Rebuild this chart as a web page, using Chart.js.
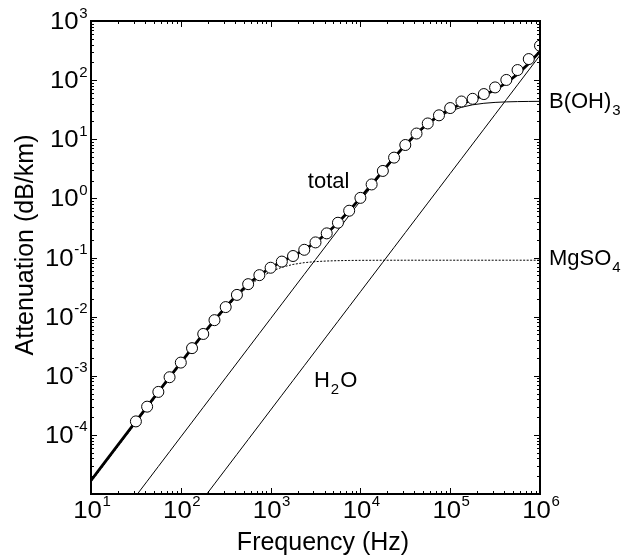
<!DOCTYPE html>
<html>
<head>
<meta charset="utf-8">
<script src="https://cdn.jsdelivr.net/npm/chart.js@4.4.1/dist/chart.umd.min.js"></script>
<style>
  html, body { margin: 0; padding: 0; background: #fff; }
</style>
</head>
<body>
<canvas id="myChart" width="624" height="558"></canvas>
<script>
// frequency grid (Hz) used by the model curves
var freq = [10, 13.34, 17.78, 23.71, 31.62, 42.17, 56.23, 74.99, 100, 133.4, 177.8, 237.1,
  316.2, 421.7, 562.3, 749.9, 1000, 1334, 1778, 2371, 3162, 4217, 5623, 7499,
  1e4, 1.334e4, 1.778e4, 2.371e4, 3.162e4, 4.217e4, 5.623e4, 7.499e4,
  1e5, 1.334e5, 1.778e5, 2.371e5, 3.162e5, 4.217e5, 5.623e5, 7.499e5, 1e6];

// attenuation (dB/km) of each contribution
var mgso4 = [1.600e-5, 2.844e-5, 5.056e-5, 8.988e-5, 1.597e-4, 2.836e-4, 5.031e-4, 8.908e-4,
  1.572e-3, 2.758e-3, 4.790e-3, 8.179e-3, 0.01359, 0.02162, 0.03239, 0.04499,
  0.0576, 0.06837, 0.07641, 0.08182, 0.08521, 0.08724, 0.08843, 0.08911,
  0.0895, 0.08972, 0.08984, 0.08991, 0.08995, 0.08997, 0.08998, 0.08999,
  0.09, 0.09, 0.09, 0.09, 0.09, 0.09, 0.09, 0.09, 0.09];
var boric = [9.24e-7, 1.643e-6, 2.922e-6, 5.197e-6, 9.24e-6, 1.643e-5, 2.922e-5, 5.197e-5,
  9.24e-5, 1.643e-4, 2.922e-4, 5.197e-4, 9.24e-4, 1.643e-3, 2.922e-3, 5.197e-3,
  9.24e-3, 0.01643, 0.0292, 0.0519, 0.0922, 0.1637, 0.2903, 0.5136,
  0.905, 1.584, 2.740, 4.648, 7.638, 11.96, 17.56, 23.83,
  29.81, 34.71, 38.24, 40.57, 42.0, 42.85, 43.35, 43.63, 43.79];
var water = [2.63e-8, 4.68e-8, 8.32e-8, 1.479e-7, 2.63e-7, 4.68e-7, 8.32e-7, 1.479e-6,
  2.63e-6, 4.68e-6, 8.32e-6, 1.479e-5, 2.63e-5, 4.68e-5, 8.32e-5, 1.479e-4,
  2.63e-4, 4.68e-4, 8.32e-4, 1.479e-3, 2.63e-3, 4.68e-3, 8.32e-3, 0.01479,
  0.0263, 0.0468, 0.0832, 0.1479, 0.263, 0.468, 0.832, 1.479,
  2.63, 4.68, 8.32, 14.79, 26.3, 46.8, 83.2, 147.9, 263];
var total = [1.695e-5, 3.013e-5, 5.357e-5, 9.523e-5, 1.692e-4, 3.005e-4, 5.332e-4, 9.443e-4,
  1.667e-3, 2.927e-3, 5.091e-3, 8.714e-3, 0.01454, 0.02331, 0.03539, 0.05034,
  0.0671, 0.08526, 0.1064, 0.1352, 0.1801, 0.2556, 0.3871, 0.6175,
  1.021, 1.721, 2.913, 4.886, 7.991, 12.52, 18.48, 25.40,
  32.53, 39.48, 46.65, 55.45, 68.39, 89.74, 126.6, 191.6, 306.9];

// measured points (open circles)
var obsFreq = [31.62, 42.17, 56.23, 74.99, 100, 133.4, 177.8, 237.1, 316.2, 421.7, 562.3, 749.9,
  1000, 1334, 1778, 2371, 3162, 4217, 5623, 7499, 1e4, 1.334e4, 1.778e4, 2.371e4,
  3.162e4, 4.217e4, 5.623e4, 7.499e4, 1e5, 1.334e5, 1.778e5, 2.371e5, 3.162e5,
  4.217e5, 5.623e5, 7.499e5, 1e6];
var obsAtten = [1.69e-4, 3.0e-4, 5.33e-4, 9.44e-4, 1.67e-3, 2.93e-3, 5.09e-3, 8.71e-3,
  0.0145, 0.0233, 0.0354, 0.0503, 0.0671, 0.0853, 0.106, 0.135, 0.180, 0.256,
  0.387, 0.618, 1.02, 1.72, 2.91, 4.89, 7.99, 12.5, 18.5, 25.4,
  33.7, 43.5, 48.3, 58.1, 75.3, 100.7, 148, 227, 382];

// tick label exponents
var xExp = [1, 2, 3, 4, 5, 6];
var yExp = [3, 2, 1, 0, -1, -2, -3, -4];

function pts(xs, ys) {
  return xs.map(function (v, i) { return {x: v, y: ys[i]}; });
}

var FONT = '"Liberation Sans", Arial, Helvetica, sans-serif';
var SX = 1.12; // reference digits are a bit wider than Arial

function supText(exp) {
  return exp < 0 ? '-' + Math.abs(exp) : String(exp);
}

function powWidth(ctx, exp) {
  ctx.font = '23px ' + FONT;
  var bw = ctx.measureText('10').width * SX;
  ctx.font = '15px ' + FONT;
  return bw + 0.5 + ctx.measureText(supText(exp)).width;
}

function drawPow(ctx, exp, left, digitTop) {
  ctx.textAlign = 'left';
  ctx.textBaseline = 'alphabetic';
  ctx.font = '23px ' + FONT;
  var bw = ctx.measureText('10').width * SX;
  ctx.save();
  ctx.translate(left, digitTop + 16.5);
  ctx.scale(SX, 1);
  ctx.fillText('10', 0, 0);
  ctx.restore();
  ctx.font = '15px ' + FONT;
  ctx.fillText(supText(exp), left + bw + 0.5, digitTop + 5);
}

var frame = {
  id: 'frame',
  afterDraw: function (chart) {
    var ctx = chart.ctx, a = chart.chartArea;
    var xs = chart.scales.x, ys = chart.scales.y;
    ctx.save();
    ctx.strokeStyle = '#000';
    ctx.fillStyle = '#000';

    // inward ticks on all four sides
    ctx.lineWidth = 1;
    ctx.beginPath();
    var d, m, v, p, len;
    for (d = 1; d <= 6; d++) {
      for (m = 1; m <= 9; m++) {
        v = m * Math.pow(10, d);
        if (v > 1e6) break;
        p = Math.round(xs.getPixelForValue(v)) + 0.5;
        len = m === 1 ? 6 : 3;
        ctx.moveTo(p, a.bottom); ctx.lineTo(p, a.bottom - len);
        ctx.moveTo(p, a.top); ctx.lineTo(p, a.top + len);
      }
    }
    for (d = -5; d <= 3; d++) {
      for (m = 1; m <= 9; m++) {
        v = m * Math.pow(10, d);
        if (v > 1e3 * 1.0001) break;
        p = Math.round(ys.getPixelForValue(v)) + 0.5;
        len = m === 1 ? 6 : 3;
        ctx.moveTo(a.left, p); ctx.lineTo(a.left + len, p);
        ctx.moveTo(a.right, p); ctx.lineTo(a.right - len, p);
      }
    }
    ctx.stroke();
    ctx.lineWidth = 2;
    ctx.strokeRect(a.left, a.top, a.right - a.left, a.bottom - a.top);

    // tick labels
    xExp.forEach(function (e) {
      var px = xs.getPixelForValue(Math.pow(10, e));
      var w = powWidth(ctx, e);
      drawPow(ctx, e, px - w / 2 + 1, a.bottom + 7);
    });
    yExp.forEach(function (e) {
      var py = ys.getPixelForValue(Math.pow(10, e));
      var w = powWidth(ctx, e);
      drawPow(ctx, e, a.left - 3.5 - w, py - 8.5);
    });

    // axis titles
    ctx.font = '25px ' + FONT;
    ctx.textAlign = 'center';
    ctx.textBaseline = 'alphabetic';
    ctx.fillText('Frequency (Hz)', 323, 550);
    ctx.save();
    ctx.translate(33, 245);
    ctx.rotate(-Math.PI / 2);
    ctx.fillText('Attenuation (dB/km)', 0, 0);
    ctx.restore();

    // curve labels
    ctx.textAlign = 'left';
    ctx.font = '22px ' + FONT;
    ctx.fillText('total', xs.getPixelForValue(2600), ys.getPixelForValue(1.5));

    function sub(main, s, x0, base, rest) {
      ctx.font = '22px ' + FONT;
      ctx.fillText(main, x0, base);
      var w = ctx.measureText(main).width;
      ctx.font = '15px ' + FONT;
      ctx.fillText(s, x0 + w + 1, base + 7);
      if (rest) {
        var w2 = ctx.measureText(s).width;
        ctx.font = '22px ' + FONT;
        ctx.fillText(rest, x0 + w + w2 + 2, base);
      }
    }
    sub('B(OH)', '3', a.right + 9, ys.getPixelForValue(44) + 7);
    sub('MgSO', '4', a.right + 9, ys.getPixelForValue(0.09) + 5);
    sub('H', '2', xs.getPixelForValue(3040), ys.getPixelForValue(6.4e-4), 'O');

    ctx.restore();
  }
};

var ctx = document.getElementById('myChart').getContext('2d');
var myChart = new Chart(ctx, {
  type: 'scatter',
  data: {
    datasets: [{
      label: 'measured',
      data: pts(obsFreq, obsAtten),
      pointRadius: 5.5,
      pointBackgroundColor: '#fff',
      pointBorderColor: '#000',
      pointBorderWidth: 1,
      showLine: false
    }, {
      label: 'total',
      data: pts(freq, total),
      showLine: true,
      pointRadius: 0,
      borderColor: '#000',
      borderWidth: 2.8
    }, {
      label: 'B(OH)3',
      data: pts(freq, boric),
      showLine: true,
      pointRadius: 0,
      borderColor: '#000',
      borderWidth: 1
    }, {
      label: 'MgSO4',
      data: pts(freq, mgso4),
      showLine: true,
      pointRadius: 0,
      borderColor: '#000',
      borderWidth: 1,
      borderDash: [2, 1.5]
    }, {
      label: 'H2O',
      data: pts(freq, water),
      showLine: true,
      pointRadius: 0,
      borderColor: '#000',
      borderWidth: 1
    }]
  },
  options: {
    responsive: false,
    animation: false,
    devicePixelRatio: 1,
    events: [],
    layout: { padding: { left: 91, top: 21, right: 84, bottom: 64 } },
    plugins: { legend: { display: false }, tooltip: { enabled: false } },
    scales: {
      x: { type: 'logarithmic', min: 10, max: 1e6, display: false },
      y: { type: 'logarithmic', min: 1e-5, max: 1e3, display: false }
    }
  },
  plugins: [frame]
});
</script>
</body>
</html>
